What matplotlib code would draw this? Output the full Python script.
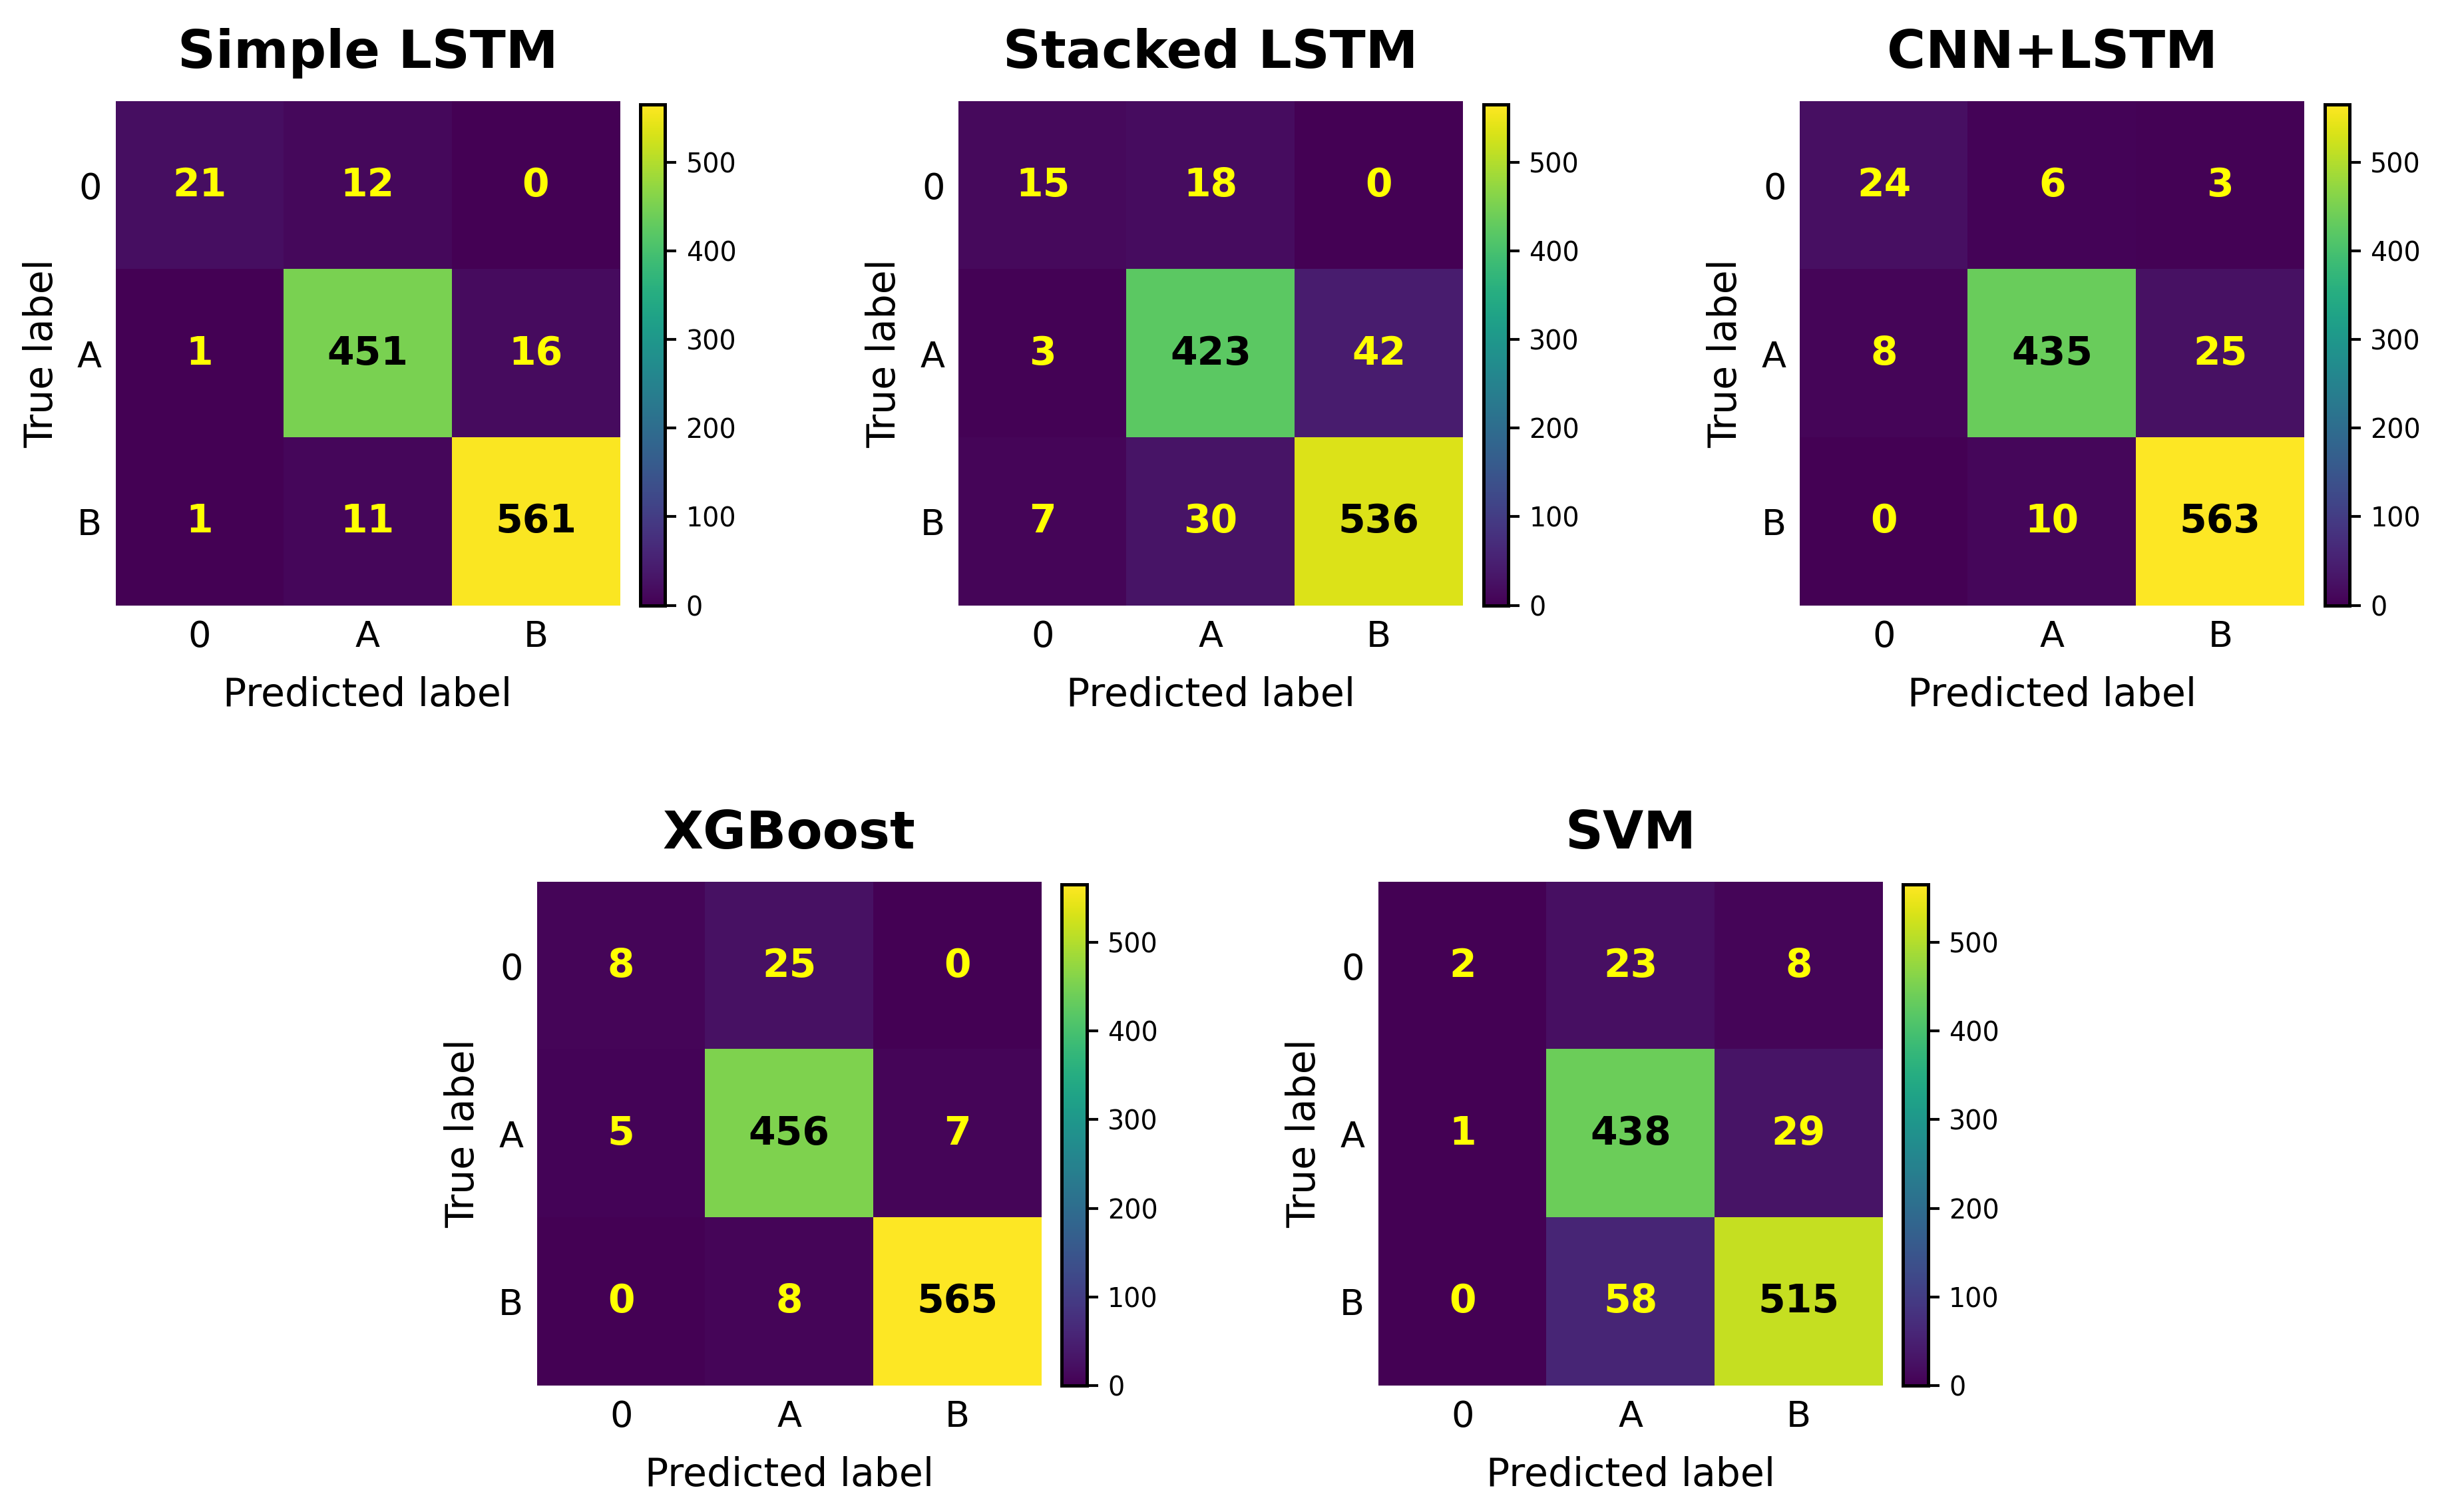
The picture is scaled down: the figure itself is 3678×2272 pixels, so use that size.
import numpy as np
import matplotlib
matplotlib.use("Agg")
import matplotlib.pyplot as plt

# confusion matrices
etiquetas = ["0", "A", "B"]
modelos = ["Simple LSTM", "Stacked LSTM", "CNN+LSTM", "XGBoost", "SVM"]

cm_simple = [[21, 12, 0], [1, 451, 16], [1, 11, 561]]
cm_stacked = [[15, 18, 0], [3, 423, 42], [7, 30, 536]]
cm_cnn = [[24, 6, 3], [8, 435, 25], [0, 10, 563]]
cm_xgb = [[8, 25, 0], [5, 456, 7], [0, 8, 565]]
cm_svm = [[2, 23, 8], [1, 438, 29], [0, 58, 515]]

matrices = [cm_simple, cm_stacked, cm_cnn, cm_xgb, cm_svm]
vmax = max(np.max(m) for m in matrices)

fig = plt.figure(figsize=(3678 / 300, 2272 / 300), dpi=300)

# axes positions (left, bottom) in figure fractions
posiciones = [(0.0472, 0.5996), (0.3916, 0.5996), (0.7353, 0.5996),
              (0.2194, 0.0836), (0.5631, 0.0836)]
ancho, alto = 0.206, 0.3333

for nombre, cm, (x0, y0) in zip(modelos, matrices, posiciones):
    cm = np.array(cm)
    ax = fig.add_axes([x0, y0, ancho, alto])
    im = ax.imshow(cm, cmap="viridis", vmin=0, vmax=vmax, aspect="auto")
    for i in range(3):
        for j in range(3):
            color = "black" if cm[i, j] > vmax / 2 else "#ffff00"
            ax.text(j, i, str(cm[i, j]), ha="center", va="center",
                    color=color, fontsize=14, fontweight="bold")
    ax.set_xticks(range(3))
    ax.set_yticks(range(3))
    ax.set_xticklabels(etiquetas, fontsize=13)
    ax.set_yticklabels(etiquetas, fontsize=13)
    ax.tick_params(length=0, pad=5)
    for s in ax.spines.values():
        s.set_visible(False)
    ax.set_xlabel("Predicted label", fontsize=14, labelpad=8)
    ax.set_ylabel("True label", fontsize=14, labelpad=6)
    ax.set_title(nombre, fontsize=19, fontweight="bold", pad=12)

    cax = fig.add_axes([x0 + ancho + 0.0083, y0, 0.0102, alto - 0.002])
    cb = fig.colorbar(im, cax=cax)
    cb.outline.set_linewidth(1.2)
    cb.set_ticks([0, 100, 200, 300, 400, 500])
    cax.tick_params(labelsize=9.5, length=4, width=1)

plt.savefig("out.png", dpi=300)
